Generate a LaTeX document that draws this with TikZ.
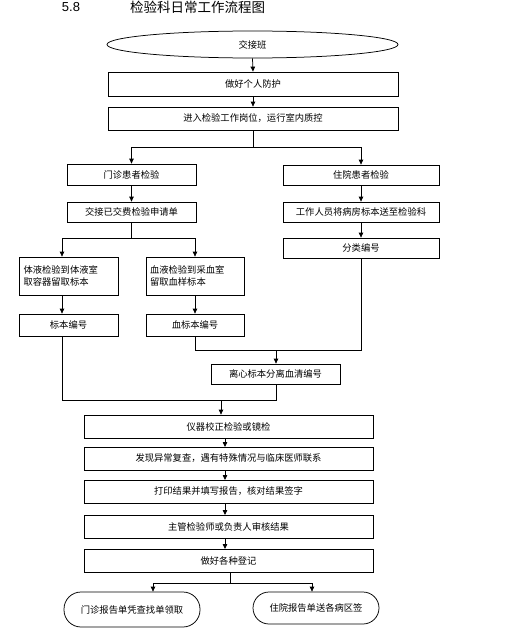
\documentclass[tikz,border=0pt]{standalone}
\usepackage{fontspec}
\setmainfont{Liberation Sans}
\newfontfamily\cjk{Noto Sans CJK SC}
\usetikzlibrary{arrows.meta,shapes.geometric}
\begin{document}
\begin{tikzpicture}[x=1pt,y=-1pt,
  every node/.style={font=\cjk\fontsize{9.3}{12.5}\selectfont, inner sep=0pt},
  box/.style={draw, line width=0.75pt, rectangle, align=center},
  arr/.style={line width=0.75pt, -{Triangle[length=5pt,width=4.5pt]}},
  ln/.style={line width=0.75pt}]
\useasboundingbox (0,0) rectangle (514,637);
% title
\node[font=\fontsize{13}{15}\selectfont] (num) at (71,7) {5.8};
\node[font=\cjk\fontsize{13.5}{15}\selectfont] (title) at (197.5,7) {检验科日常工作流程图};
% nodes
\node[draw, line width=0.75pt, ellipse, minimum width=291pt, minimum height=27pt] (start) at (252.5,44.5) {交接班};
\node[box, minimum width=290pt, minimum height=24pt] (b1) at (253,84) {做好个人防护};
\node[box, minimum width=290pt, minimum height=23pt] (b2) at (253,118.5) {进入检验工作岗位，运行室内质控};
\node[box, minimum width=129pt, minimum height=21pt] (mz) at (131.5,174.5) {门诊患者检验};
\node[box, minimum width=156pt, minimum height=20pt] (zy) at (361,175) {住院患者检验};
\node[box, minimum width=129pt, minimum height=20pt] (mz2) at (131.5,212) {交接已交费检验申请单};
\node[box, minimum width=156pt, minimum height=20pt] (zy2) at (361,212) {工作人员将病房标本送至检验科};
\node[box, minimum width=156pt, minimum height=20pt] (fl) at (361,248) {分类编号};
\node[box, minimum width=99pt, minimum height=38pt, text width=90pt, align=left, inner xsep=4.5pt] (ty) at (68.5,276) {体液检验到体液室\\取容器留取标本};
\node[box, minimum width=98pt, minimum height=38pt, text width=90pt, align=left, inner xsep=4pt] (xy) at (195,276) {血液检验到采血室\\留取血样标本};
\node[box, minimum width=99pt, minimum height=22pt] (bb) at (68.5,325) {标本编号};
\node[box, minimum width=98pt, minimum height=22pt] (xb) at (195,325) {血标本编号};
\node[box, minimum width=129pt, minimum height=20pt] (lx) at (275.5,374) {离心标本分离血清编号};
\node[box, minimum width=289pt, minimum height=23pt] (yq) at (228.5,426.5) {仪器校正检验或镜检};
\node[box, minimum width=289pt, minimum height=23pt] (fx) at (228.5,458.5) {发现异常复查，遇有特殊情况与临床医师联系};
\node[box, minimum width=289pt, minimum height=23pt] (dy) at (228.5,491.5) {打印结果并填写报告，核对结果签字};
\node[box, minimum width=289pt, minimum height=23pt] (zg) at (228.5,526.5) {主管检验师或负责人审核结果};
\node[box, minimum width=289pt, minimum height=23pt] (dj) at (228.5,560.5) {做好各种登记};
\node[draw, line width=0.75pt, rounded corners=17pt, minimum width=136pt, minimum height=35pt] (e1) at (132,609.5) {门诊报告单凭查找单领取};
\node[draw, line width=0.75pt, rounded corners=16pt, minimum width=126pt, minimum height=32pt] (e2) at (316,608) {住院报告单送各病区签};
% junction coordinates
\coordinate (j1) at (253,147);
\coordinate (j1l) at (131.5,147);
\coordinate (j1r) at (361,147);
\coordinate (j2) at (131.5,238);
\coordinate (j2l) at (62,238);
\coordinate (j2r) at (195,238);
\coordinate (j3a) at (195,350);
\coordinate (j3b) at (276,350);
\coordinate (j3c) at (361,350);
\coordinate (j4a) at (62,400);
\coordinate (j4b) at (221,400);
\coordinate (j4c) at (276,400);
\coordinate (j5) at (230,583);
\coordinate (j5l) at (153,583);
\coordinate (j5r) at (312,583);
% connectors
\draw[arr] (start.south) -- (b1.north);
\draw[arr] (b1.south) -- (b2.north);
\draw[ln] (b2.south) -- (j1);
\draw[ln] (j1l) -- (j1r);
\draw[arr] (j1l) -- (mz.north);
\draw[arr] (j1r) -- (zy.north);
\draw[arr] (mz.south) -- (mz2.north);
\draw[arr] (zy.south) -- (zy2.north);
\draw[arr] (zy2.south) -- (fl.north);
\draw[ln] (mz2.south) -- (j2);
\draw[ln] (j2l) -- (j2r);
\draw[arr] (j2l) -- (j2l |- ty.north);
\draw[arr] (j2r) -- (xy.north);
\draw[arr] (j2l |- ty.south) -- (j2l |- bb.north);
\draw[arr] (xy.south) -- (xb.north);
\draw[ln] (xb.south) -- (j3a) -- (j3c) -- (fl.south);
\draw[arr] (j3b) -- (j3b |- lx.north);
\draw[ln] (j2l |- bb.south) -- (j4a) -- (j4c) -- (j4c |- lx.south);
\draw[arr] (j4b) -- (j4b |- yq.north);
\draw[arr] (225,438) -- (225,447);
\draw[arr] (225,470) -- (225,480);
\draw[arr] (225,503) -- (225,515);
\draw[arr] (225,538) -- (225,549);
\draw[ln] (j5 |- dj.south) -- (j5);
\draw[ln] (j5l) -- (j5r);
\draw[arr] (j5l) -- (j5l |- e1.north);
\draw[arr] (j5r) -- (j5r |- e2.north);
\end{tikzpicture}
\end{document}
